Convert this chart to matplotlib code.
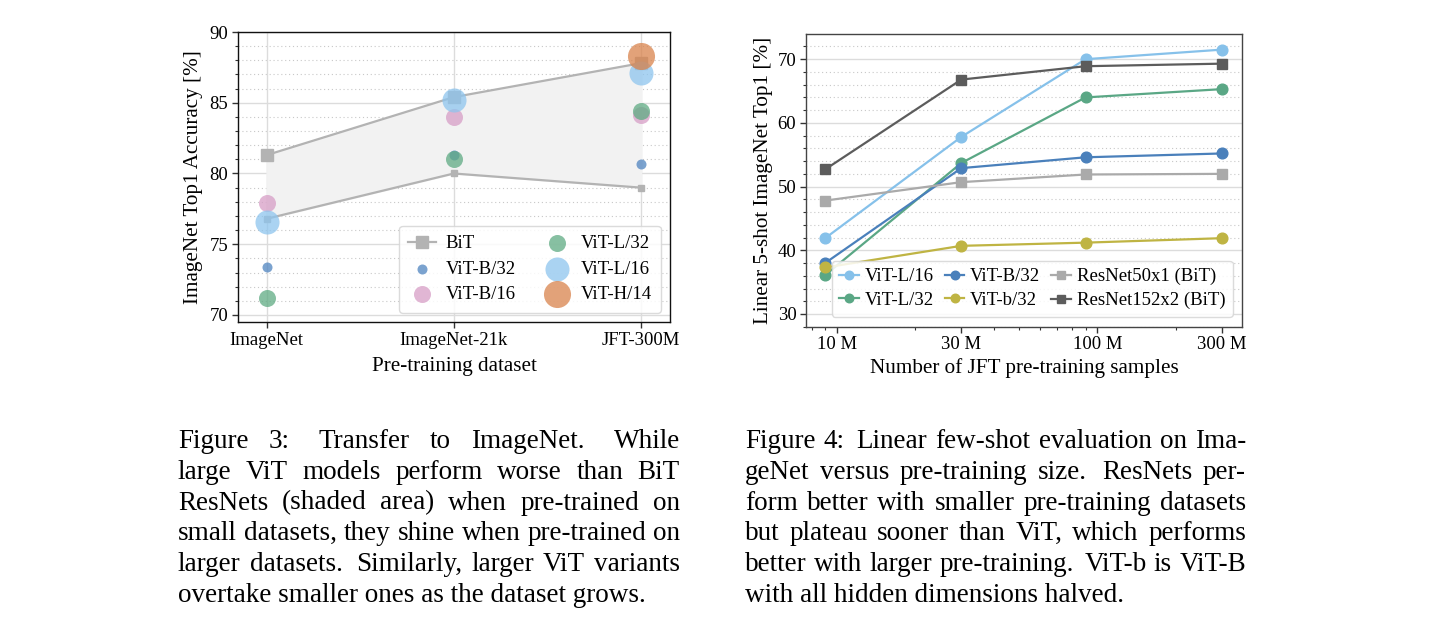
import matplotlib
matplotlib.use("Agg")
import matplotlib.pyplot as plt
import numpy as np
from matplotlib.ticker import MultipleLocator, FixedLocator, NullFormatter, LogLocator

# ---- data, figure 3 (transfer to ImageNet) ----
datasets = ["ImageNet", "ImageNet-21k", "JFT-300M"]
bit_upper = [81.3, 85.4, 87.8]
bit_lower = [76.8, 80.0, 79.0]
vit_b32 = [73.4, 81.3, 80.7]
vit_b16 = [77.9, 84.0, 84.1]
vit_l32 = [71.2, 81.0, 84.4]
vit_l16 = [76.55, 85.2, 87.1]
vit_h14 = [np.nan, np.nan, 88.3]

# ---- data, figure 4 (few-shot vs pre-training size) ----
samples = [9e6, 30e6, 90e6, 300e6]
fs_l16 = [41.9, 57.8, 70.0, 71.5]
fs_b32 = [38.0, 52.9, 54.6, 55.2]
fs_r50 = [47.8, 50.7, 51.9, 52.0]
fs_l32 = [36.1, 53.7, 64.0, 65.3]
fs_b32s = [37.3, 40.7, 41.2, 41.9]
fs_r152 = [52.7, 66.8, 68.9, 69.3]

caption3 = ["Figure 3:  Transfer to ImageNet.  While",
            "large ViT models perform worse than BiT",
            "ResNets (shaded area) when pre-trained on",
            "small datasets, they shine when pre-trained on",
            "larger datasets.  Similarly, larger ViT variants",
            "overtake smaller ones as the dataset grows."]
caption4 = ["Figure 4: Linear few-shot evaluation on Ima-",
            "geNet versus pre-training size.  ResNets per-",
            "form better with smaller pre-training datasets",
            "but plateau sooner than ViT, which performs",
            "better with larger pre-training. ViT-b is ViT-B",
            "with all hidden dimensions halved."]

plt.rcParams["font.family"] = ["Liberation Serif", "DejaVu Serif"]
plt.rcParams["mathtext.fontset"] = "stix"
FS = 13.5      # ticks / legends
LFS = 15.2     # axis labels

fig = plt.figure(figsize=(14.44, 6.27), dpi=100)


def style_axes(ax, spine_color):
    for s in ax.spines.values():
        s.set_color(spine_color)
        s.set_linewidth(1.0)
    ax.tick_params(which="major", length=4, width=1, color="#333333",
                   labelsize=FS, pad=3)
    ax.tick_params(which="minor", length=2.5, width=0.8, color="#333333")
    ax.grid(which="major", axis="y", color="#dcdcdc", lw=1.0)
    ax.grid(which="minor", axis="y", color="#c8c8c8", lw=0.8, ls=(0, (1, 2.5)))
    ax.set_axisbelow(True)


# ---------------- left panel ----------------
ax1 = fig.add_axes([0.1648, 0.4864, 0.2992, 0.4625])
x = np.arange(len(datasets))
ax1.fill_between(x, bit_lower, bit_upper, color="#f2f2f2", zorder=1)
bit_line, = ax1.plot(x, bit_upper, color="#b3b3b3", lw=1.6, marker="s",
                     ms=8, zorder=2, label="BiT")
ax1.plot(x, bit_lower, color="#b3b3b3", lw=1.6, marker="s", ms=5, zorder=2)

vit_series = [
    ("ViT-B/32", vit_b32, "#4f84c0", 52),
    ("ViT-B/16", vit_b16, "#d79ec6", 150),
    ("ViT-L/32", vit_l32, "#5fab83", 150),
    ("ViT-L/16", vit_l16, "#8ec5ee", 300),
    ("ViT-H/14", vit_h14, "#d9834c", 380),
]
handles = [bit_line]
for name, vals, col, size in vit_series:
    h = ax1.scatter(x, vals, s=size, color=col, alpha=0.75, lw=0,
                    zorder=3, label=name)
    handles.append(h)

ax1.set_xlim(-0.153, 2.155)
ax1.set_ylim(69.5, 90)
ax1.set_xticks(x)
ax1.set_xticklabels(datasets)
ax1.yaxis.set_major_locator(MultipleLocator(5))
ax1.yaxis.set_minor_locator(MultipleLocator(1))
style_axes(ax1, "#111111")
ax1.grid(which="major", axis="x", color="#dcdcdc", lw=1.0)
ax1.set_xlabel("Pre-training dataset", fontsize=LFS, labelpad=6)
ax1.set_ylabel("ImageNet Top1 Accuracy [%]", fontsize=LFS, labelpad=5)
ax1.legend(handles=handles, ncol=2, loc="lower right", fontsize=FS,
           frameon=True, framealpha=0.85, edgecolor="#d5d5d5",
           handlelength=1.5, columnspacing=1.45, handletextpad=0.5,
           labelspacing=0.45, borderpad=0.5, borderaxespad=0,
           bbox_to_anchor=(0.979, 0.032))

# ---------------- right panel ----------------
ax2 = fig.add_axes([0.5582, 0.4789, 0.3019, 0.4663])
fs_series = [
    ("ViT-L/16", fs_l16, "#86c1ea", "o", 7.7),
    ("ViT-L/32", fs_l32, "#5aa785", "o", 7.7),
    ("ViT-B/32", fs_b32, "#4a80bb", "o", 7.7),
    ("ViT-b/32", fs_b32s, "#bfb443", "o", 7.7),
    ("ResNet50x1 (BiT)", fs_r50, "#aaaaaa", "s", 7.5),
    ("ResNet152x2 (BiT)", fs_r152, "#5c5c5c", "s", 7.5),
]
lines = {}
for name, vals, col, mk, ms in fs_series:
    ln, = ax2.plot(samples, vals, color=col, lw=1.6, marker=mk, ms=ms,
                   label=name, zorder=3)
    lines[name] = ln

ax2.set_xscale("log")
ax2.set_xlim(7.6e6, 3.59e8)
ax2.set_ylim(28, 73.9)
ax2.xaxis.set_major_locator(FixedLocator([1e7, 3e7, 1e8, 3e8]))
ax2.set_xticklabels(["10 M", "30 M", "100 M", "300 M"])
ax2.xaxis.set_minor_locator(LogLocator(base=10, subs=np.arange(2, 10)))
ax2.xaxis.set_minor_formatter(NullFormatter())
ax2.yaxis.set_major_locator(MultipleLocator(10))
ax2.yaxis.set_minor_locator(MultipleLocator(2))
style_axes(ax2, "#444444")
ax2.set_xlabel("Number of JFT pre-training samples", fontsize=LFS, labelpad=3)
ax2.set_ylabel("Linear 5-shot ImageNet Top1 [%]", fontsize=LFS, labelpad=3)
order = ["ViT-L/16", "ViT-L/32", "ViT-B/32", "ViT-b/32",
         "ResNet50x1 (BiT)", "ResNet152x2 (BiT)"]
ax2.legend([lines[n] for n in order], order, ncol=3, loc="lower right",
           fontsize=FS, frameon=True, framealpha=0.85, edgecolor="#d5d5d5",
           handlelength=1.05, handletextpad=0.3, columnspacing=0.6,
           labelspacing=0.35, borderpad=0.4, borderaxespad=0,
           markerscale=0.8, bbox_to_anchor=(0.979, 0.034))


# ---------------- captions (justified) ----------------
def justified(lines_, x0, x1, y0, dy, size):
    r = fig.canvas.get_renderer()
    W = fig.bbox.width
    for i, line in enumerate(lines_):
        y = y0 - i * dy
        if i == len(lines_) - 1:
            fig.text(x0, y, line, fontsize=size, va="baseline")
            continue
        words = line.split()
        ts = [fig.text(0, y, w, fontsize=size, va="baseline") for w in words]
        widths = [t.get_window_extent(r).width / W for t in ts]
        weights = [1.45 if w.endswith((".", ":")) else 1.0 for w in words[:-1]]
        unit = (x1 - x0 - sum(widths)) / sum(weights)
        pos = x0
        for t, wd, k in zip(ts, widths, weights + [0]):
            t.set_x(pos)
            pos += wd + unit * k


fig.canvas.draw()
justified(caption3, 178 / 1444, 680 / 1444, 1 - 448 / 627, 30.8 / 627, 19.5)
justified(caption4, 745 / 1444, 1246 / 1444, 1 - 448 / 627, 30.8 / 627, 19.5)

fig.savefig("out.png", dpi=100)
